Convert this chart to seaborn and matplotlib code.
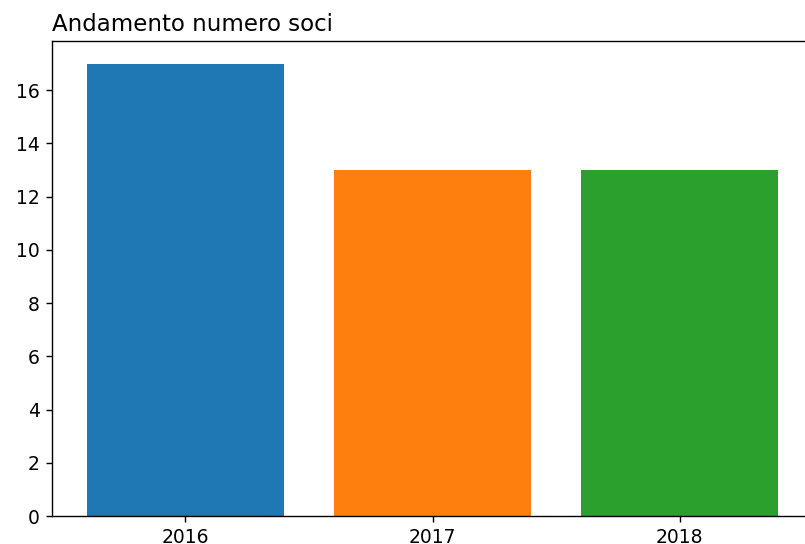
import matplotlib
matplotlib.use("Agg")
import matplotlib.pyplot as plt
import pandas as pd
import seaborn as sns

anni = ["2016", "2017", "2018"]
soci = [17, 13, 13]
colori = ["#1f77b4", "#ff7f0e", "#2ca02c"]

df = pd.DataFrame({"anno": anni, "soci": soci})

fig = plt.figure(figsize=(805 / 125, 544 / 125), dpi=125)
# axes run past the right edge, as in the cropped reference
ax = fig.add_axes([52 / 805, 28 / 544, 761 / 805, 475 / 544])

sns.barplot(data=df, x="anno", y="soci", hue="anno", palette=colori,
            saturation=1, width=0.8, legend=False, ax=ax)

ax.set_xlim(-0.54, 2.54)
ax.set_ylim(0, 17.85)
ax.set_xlabel("")
ax.set_ylabel("")
ax.tick_params(labelsize=10.8)
ax.set_title("Andamento numero soci", loc="left", fontsize=13.2)

fig.savefig("out.png", dpi=125)
